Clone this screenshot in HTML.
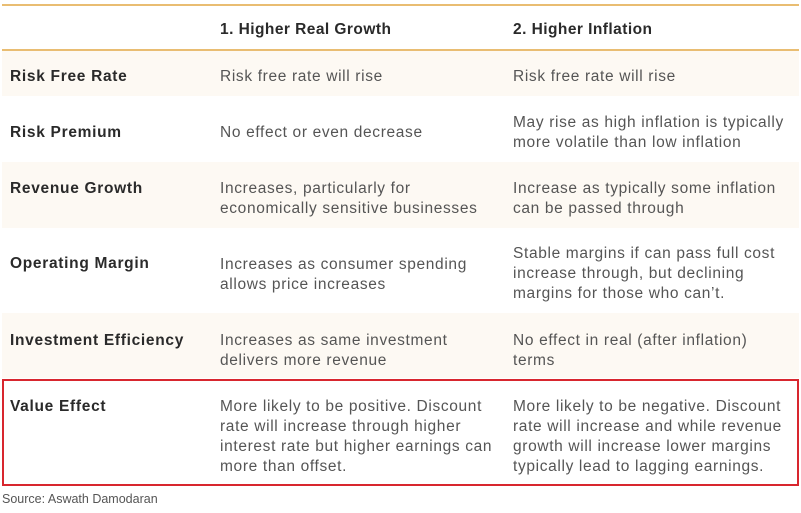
<!DOCTYPE html>
<html><head><style>
body{margin:0;width:801px;height:513px;background:#fff;position:relative;overflow:hidden;font-family:"Liberation Sans",sans-serif;}
.a{position:absolute;}
.sh{position:absolute;left:2px;width:797px;background:#fdf9f3;}
.l{position:absolute;left:10px;font-size:15.5px;font-weight:bold;color:#2a2a2a;letter-spacing:0.7px}
.h{position:absolute;font-size:15.5px;font-weight:bold;color:#2a2a2a;letter-spacing:0.45px}
.t{position:absolute;font-size:15.5px;color:#555;line-height:20px;white-space:nowrap;letter-spacing:0.65px}
</style></head><body>
<div class="a" style="left:2px;top:4px;width:797px;height:1.5px;background:#e9bd72"></div>
<div class="a" style="left:2px;top:49px;width:797px;height:1.5px;background:#e9bd72"></div>
<div class="sh" style="top:51px;height:45px"></div>
<div class="sh" style="top:162px;height:66px"></div>
<div class="sh" style="top:313px;height:65px"></div>
<div class="a" style="left:2px;top:379px;width:793px;height:103px;border:2px solid #d8262e"></div>
<div class="h" style="left:220px;top:21px">1. Higher Real Growth</div>
<div class="h" style="left:513px;top:21px">2. Higher Inflation</div>
<div class="l" style="top:68px">Risk Free Rate</div>
<div class="t" style="left:220px;top:67px">Risk free rate will rise</div>
<div class="t" style="left:513px;top:67px">Risk free rate will rise</div>
<div class="l" style="top:124px">Risk Premium</div>
<div class="t" style="left:220px;top:123px">No effect or even decrease</div>
<div class="t" style="left:513px;top:113px">May rise as high inflation is typically<br>more volatile than low inflation</div>
<div class="l" style="top:180px">Revenue Growth</div>
<div class="t" style="left:220px;top:179px">Increases, particularly for<br>economically sensitive businesses</div>
<div class="t" style="left:513px;top:179px">Increase as typically some inflation<br>can be passed through</div>
<div class="l" style="top:255px">Operating Margin</div>
<div class="t" style="left:220px;top:255px">Increases as consumer spending<br>allows price increases</div>
<div class="t" style="left:513px;top:244px">Stable margins if can pass full cost<br>increase through, but declining<br>margins for those who can’t.</div>
<div class="l" style="top:332px">Investment Efficiency</div>
<div class="t" style="left:220px;top:331px">Increases as same investment<br>delivers more revenue</div>
<div class="t" style="left:513px;top:331px">No effect in real (after inflation)<br>terms</div>
<div class="l" style="top:398px">Value Effect</div>
<div class="t" style="left:220px;top:397px">More likely to be positive. Discount<br>rate will increase through higher<br>interest rate but higher earnings can<br>more than offset.</div>
<div class="t" style="left:513px;top:397px">More likely to be negative. Discount<br>rate will increase and while revenue<br>growth will increase lower margins<br>typically lead to lagging earnings.</div>
<div class="a" style="left:2px;top:492px;font-size:12.5px;color:#555">Source: Aswath Damodaran</div>
</body></html>
